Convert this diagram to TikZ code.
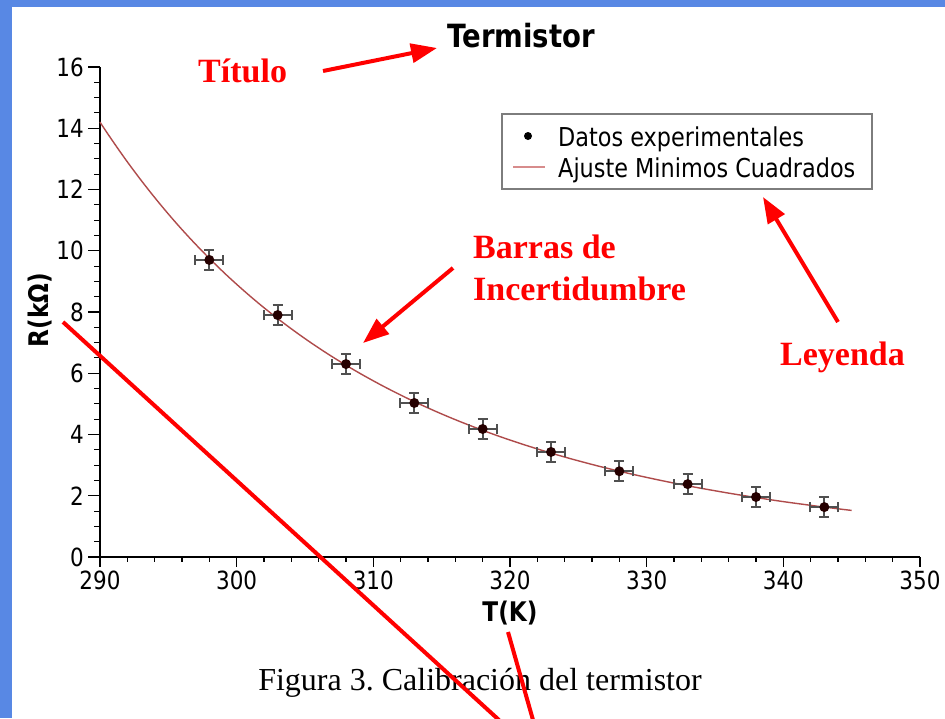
\documentclass[tikz,border=0pt]{standalone}
\usepackage{fontspec}
\setmainfont{Liberation Serif}
\newfontfamily\pf[FakeStretch=0.86]{DejaVu Sans}
\usetikzlibrary{arrows.meta}
\definecolor{frameblue}{RGB}{88,136,228}
\definecolor{fitred}{RGB}{175,75,75}
\definecolor{legred}{RGB}{215,140,140}
\definecolor{barcol}{RGB}{80,80,80}
\definecolor{boxgray}{RGB}{125,125,125}
\tikzset{
  axisline/.style={line width=1.3pt, black},
  ticklab/.style={font=\pf\fontsize{25}{25}\selectfont, inner sep=0pt},
  axlab/.style={font=\pf\bfseries\fontsize{27}{27}\selectfont, inner sep=0pt},
  redlab/.style={font=\bfseries\fontsize{34}{34}\selectfont, text=red, inner sep=0pt, anchor=base west},
  redarrow/.style={red, line width=4pt, -{Triangle[length=26pt,width=19pt]}},
  redline/.style={red, line width=4pt},
  datapt/.style={circle, fill=black!85!red, inner sep=0pt, minimum size=10pt},
  errbar/.style={barcol, line width=1.8pt},
  legtext/.style={font=\pf\fontsize{26}{26}\selectfont, inner sep=0pt, anchor=base west},
}
\begin{document}
\frenchspacing
\begin{tikzpicture}[x=1pt,y=-1pt]
\useasboundingbox (0,0) rectangle (945,718);
\fill[white] (0,0) rectangle (945,718);
% blue frame
\fill[frameblue] (0,0) rectangle (945,7);
\fill[frameblue] (0,0) rectangle (12,718);

% axes
\draw[axisline] (100,67) -- (100,557) -- (920,557);
% y ticks
\foreach \v in {0,2,...,16} {
  \draw[axisline] (88,{557-\v*30.625}) -- (100,{557-\v*30.625});
  \node[ticklab, anchor=east] (yl\v) at (84,{557-\v*30.625}) {\v};
}
\foreach \v in {0.5,1,...,15.5} {
  \draw[line width=1.1pt] (94,{557-\v*30.625}) -- (100,{557-\v*30.625});
}
% x ticks
\foreach \t in {290,300,...,350} {
  \draw[axisline] ({100+(\t-290)*13.6667},557) -- ({100+(\t-290)*13.6667},567);
  \node[ticklab, anchor=north] (xl\t) at ({100+(\t-290)*13.6667},571) {\t};
}
\foreach \t in {292,294,...,348} {
  \draw[line width=1.1pt] ({100+(\t-290)*13.6667},557) -- ({100+(\t-290)*13.6667},562);
}

% axis labels
\node[axlab, rotate=90] (ylab) at (40,310) {R(kΩ)};
\node[axlab] (xlab) at (510,613) {T(K)};
% title
\node[font=\pf\bfseries\fontsize{32}{32}\selectfont, inner sep=0pt, anchor=base] (title) at (521,47) {Termistor};

% fit curve
\draw[fitred, line width=1.4pt] plot[domain=290:345, samples=90, smooth]
  ({100+(\x-290)*13.6667},{557-14.2*exp(-14.009*(\x-290)/\x)*30.625});

% data points with error bars
\foreach \i/\t/\r in {1/298/9.70,2/303/7.90,3/308/6.30,4/313/5.03,5/318/4.18,6/323/3.43,7/328/2.80,8/333/2.38,9/338/1.96,10/343/1.63} {
  \coordinate (c\i) at ({100+(\t-290)*13.6667},{557-\r*30.625});
  \draw[errbar] ([xshift=-14pt]c\i) -- ([xshift=14pt]c\i);
  \draw[errbar] ([xshift=-14pt,yshift=-5pt]c\i) -- ([xshift=-14pt,yshift=5pt]c\i);
  \draw[errbar] ([xshift=14pt,yshift=-5pt]c\i) -- ([xshift=14pt,yshift=5pt]c\i);
  \draw[errbar] ([yshift=-10pt]c\i) -- ([yshift=10pt]c\i);
  \draw[errbar] ([xshift=-5pt,yshift=-10pt]c\i) -- ([xshift=5pt,yshift=-10pt]c\i);
  \draw[errbar] ([xshift=-5pt,yshift=10pt]c\i) -- ([xshift=5pt,yshift=10pt]c\i);
  \node[datapt] (p\i) at (c\i) {};
}

% legend
\draw[boxgray, line width=1.3pt] (502,114) rectangle (872,189);
\node[circle, fill=black, inner sep=0pt, minimum size=8pt] (legdot) at (528,136) {};
\draw[legred, line width=1.6pt] (513,167) -- (545,167);
\node[legtext] (leg1) at (558,146) {Datos experimentales};
\node[legtext] (leg2) at (558,177) {Ajuste Minimos Cuadrados};

% caption
\node[font=\fontsize{32}{32}\selectfont, inner sep=0pt, anchor=base] (cap) at (480,690) {Figura 3. Calibración del termistor};

% red annotations
\node[redlab] (titulo) at (198,82) {Título};
\node[redlab] (barras) at (473,258) {Barras de};
\node[redlab] (incert) at (473,300) {Incertidumbre};
\node[redlab] (leyenda) at (780,365) {Leyenda};

\coordinate (a1s) at (323,71);
\coordinate (a1e) at (437,48);
\coordinate (a2s) at (453,268);
\coordinate (a2e) at (363,343);
\coordinate (a3s) at (838,322);
\coordinate (a3e) at (763,197);
\draw[redarrow] (a1s) -- (a1e);
\draw[redarrow] (a2s) -- (a2e);
\draw[redarrow] (a3s) -- (a3e);

\coordinate (l1s) at (63,322);
\coordinate (l1e) at (499,720);
\coordinate (l2s) at (508,632);
\coordinate (l2e) at (533,720);
\draw[redline] (l1s) -- (l1e);
\draw[redline] (l2s) -- (l2e);
\end{tikzpicture}
\end{document}
